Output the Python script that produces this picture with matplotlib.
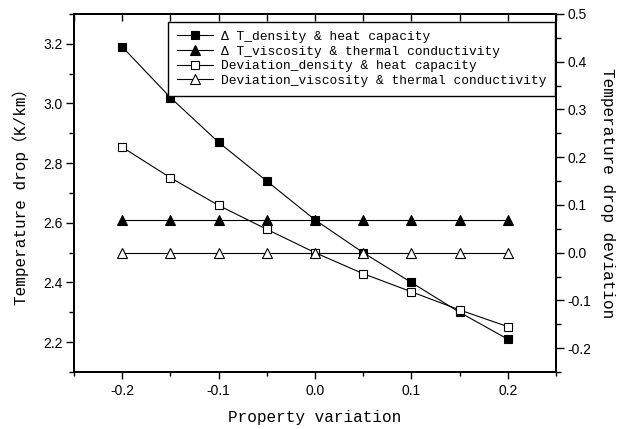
import numpy as np
import matplotlib.pyplot as plt
from matplotlib.ticker import MultipleLocator, FuncFormatter

# property variation
variation = [-0.2, -0.15, -0.1, -0.05, 0.0, 0.05, 0.1, 0.15, 0.2]

# temperature drop (K/km)
dt_density = [3.19, 3.02, 2.87, 2.74, 2.61, 2.50, 2.40, 2.30, 2.21]
dt_viscosity = [2.61, 2.61, 2.61, 2.61, 2.61, 2.61, 2.61, 2.61, 2.61]

# deviation
dev_density = [0.221, 0.157, 0.099, 0.049, 0.0, -0.044, -0.082, -0.120, -0.155]
dev_viscosity = [0.0, 0.0, 0.0, 0.0, 0.0, 0.0, 0.0, 0.0, 0.0]

legend_names = ["\u0394 T_density & heat capacity",
				"\u0394 T_viscosity & thermal conductivity",
				"Deviation_density & heat capacity",
				"Deviation_viscosity & thermal conductivity"]

label_font = ['Liberation Mono', 'Noto Sans CJK SC']
tick_font = 'Liberation Sans'
fmt = FuncFormatter(lambda v, p: "%.1f" % v)

fig = plt.figure(figsize=(6.18, 4.29), dpi=100)
ax = fig.add_axes([0.1197, 0.1329, 0.78, 0.8345])
ax2 = ax.twinx()

style = dict(color='black', lw=0.8, markeredgewidth=0.8)
l1, = ax.plot(variation, dt_density, marker='s', ms=5.2, mfc='black', **style)
l2, = ax.plot(variation, dt_viscosity, marker='^', ms=6.5, mfc='black', **style)
l3, = ax2.plot(variation, dev_density, marker='s', ms=5.2, mfc='white', **style)
l4, = ax2.plot(variation, dev_viscosity, marker='^', ms=6.5, mfc='white', **style)

ax.set_xlim(-0.25, 0.25)
ax.set_ylim(2.1, 3.3)
ax2.set_ylim(-0.25, 0.5)

ax.xaxis.set_major_locator(MultipleLocator(0.1))
ax.xaxis.set_minor_locator(MultipleLocator(0.05))
ax.yaxis.set_major_locator(MultipleLocator(0.2))
ax.yaxis.set_minor_locator(MultipleLocator(0.1))
ax2.yaxis.set_major_locator(MultipleLocator(0.1))
ax2.yaxis.set_minor_locator(MultipleLocator(0.05))
ax.xaxis.set_major_formatter(fmt)
ax.yaxis.set_major_formatter(fmt)
ax2.yaxis.set_major_formatter(fmt)

for a in (ax, ax2):
	for s in a.spines.values():
		s.set_linewidth(1.3)

ax.tick_params(axis='y', which='major', direction='out', length=6, width=1, labelsize=10, pad=2)
ax.tick_params(axis='y', which='minor', direction='out', length=3.5, width=1)
ax.tick_params(axis='x', which='major', direction='out', length=5, width=1, labelsize=10, pad=4)
ax.tick_params(axis='x', which='minor', direction='out', length=3, width=1)
ax2.tick_params(axis='y', which='major', direction='out', length=6, width=1, labelsize=10, pad=2)
ax2.tick_params(axis='y', which='minor', direction='out', length=3.5, width=1)

# top ticks point inward, every 0.05
top = ax.secondary_xaxis('top')
top.xaxis.set_major_locator(MultipleLocator(0.05))
top.tick_params(axis='x', direction='in', length=5, width=1, labeltop=False)
top.spines['top'].set_linewidth(1.3)

for lab in ax.get_xticklabels() + ax.get_yticklabels() + ax2.get_yticklabels():
	lab.set_fontfamily(tick_font)

ax.set_xlabel("Property variation", family=label_font, fontsize=11.5, labelpad=8)
ax.set_ylabel("Temperature drop\uff08K/km\uff09", family=label_font, fontsize=11.5, labelpad=10)
ax2.set_ylabel("Temperature drop deviation", family=label_font, fontsize=11.5,
			   rotation=270, labelpad=17)

leg = ax.legend([l1, l2, l3, l4], legend_names, loc='upper right',
				bbox_to_anchor=(0.998, 0.978), borderaxespad=0,
				prop={'family': label_font, 'size': 9.3},
				handlelength=2.8, handletextpad=0.6, labelspacing=0.2,
				borderpad=0.7, fancybox=False, framealpha=1)
leg.get_frame().set_edgecolor('black')
leg.get_frame().set_linewidth(1.0)
leg.set_zorder(10)

plt.savefig("out.png", dpi=100)
